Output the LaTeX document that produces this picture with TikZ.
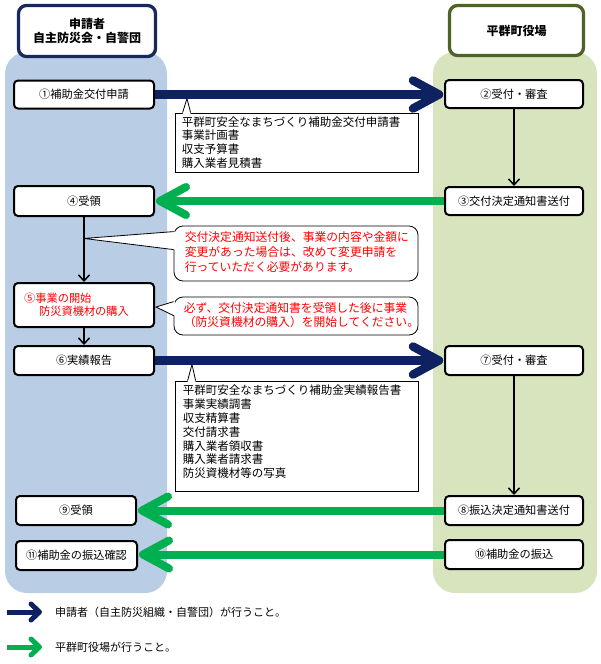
\documentclass[tikz,border=0pt]{standalone}
\usepackage{fontspec}
\setmainfont{Noto Sans CJK JP}
\usetikzlibrary{calc,arrows.meta}
\definecolor{lbg}{RGB}{185,205,229}
\definecolor{rbg}{RGB}{215,228,189}
\definecolor{navyh}{RGB}{22,40,92}
\definecolor{navya}{RGB}{14,33,96}
\definecolor{oliveh}{RGB}{79,98,40}
\definecolor{greena}{RGB}{0,176,80}
\newcommand\fsz[2]{\fontsize{#1pt}{#2pt}\selectfont}
\tikzset{
 hdr/.style={rectangle, rounded corners=8pt, line width=3.3pt, fill=white, align=center, font=\fsz{12}{14.5}\bfseries, inner sep=0pt},
 box/.style={rectangle, draw=black, line width=2pt, rounded corners=4pt, fill=white, inner sep=0pt, font=\fsz{11.2}{13.5}, minimum width=140pt, minimum height=28pt},
 callrect/.style={rectangle, draw=black, line width=0.8pt, fill=white, inner sep=0pt},
 callround/.style={callrect, rounded corners=9pt},
 calltext/.style={anchor=west, align=left, inner sep=0pt, font=\fsz{11.5}{13.8}},
 redtext/.style={anchor=west, align=left, inner sep=0pt, text=red, font=\fsz{11.8}{14.6}},
 legtext/.style={anchor=west, inner sep=0pt, font=\fsz{11}{13}},
 pointer/.style={draw=black, line width=0.8pt},
 flow/.style={draw=black, line width=1.5pt, -{Straight Barb[length=6pt,width=11pt]}},
 navyshaft/.style={draw=navya, line width=8.5pt},
 navytip/.style={draw=navya, line width=8.5pt, line cap=round, line join=round},
 greenshaft/.style={draw=greena, line width=8pt},
 greentip/.style={draw=greena, line width=8pt, line cap=round, line join=round},
}
\begin{document}
\begin{tikzpicture}[x=1pt,y=-1pt]
\useasboundingbox (0,0) rectangle (600,664);
\fill[white] (0,0) rectangle (600,664);
% column backgrounds
\fill[lbg, rounded corners=22pt] (5,52) rectangle (167,593);
\fill[rbg, rounded corners=22pt] (433,52) rectangle (597,593);
% headers
\node[hdr, draw=navyh, minimum width=137pt, minimum height=51pt] (hl) at (87,31) {申請者\\自主防災会・自警団};
\node[hdr, draw=oliveh, minimum width=134pt, minimum height=50pt] (hr) at (516.5,30.5) {平群町役場};
% left boxes
\node[box] (b1) at (84,94.5) {①補助金交付申請};
\node[box, minimum height=30pt] (b4) at (84,201) {④受領};
\node[box, minimum height=44pt] (b5) at (84,305) {};
\node[redtext, font=\fsz{11.2}{13}] (t5) at ($(b5.west)+(11,-0.5)$) {⑤事業の開始\\\hspace{15pt}防災資機材の購入};
\node[box, minimum height=29pt] (b6) at (84,360.5) {⑥実績報告};
\node[box, minimum width=120pt, minimum height=29pt] (b9) at (76,510.5) {⑨受領};
\node[box, minimum width=121pt, minimum height=29pt] (b11) at (76.5,555.5) {⑪補助金の振込確認};
% right boxes
\node[box, minimum width=138pt] (b2) at (514,94) {②受付・審査};
\node[box, minimum width=138pt] (b3) at (514,201) {③交付決定通知書送付};
\node[box, minimum width=138pt, minimum height=29pt] (b7) at (514,360.5) {⑦受付・審査};
\node[box, minimum width=138pt, minimum height=29pt] (b8) at (514,510.5) {⑧振込決定通知書送付};
\node[box, minimum width=138pt, minimum height=29pt] (b10) at (514,554.5) {⑩補助金の振込};
% thin flow arrows
\draw[flow] (b2.south) -- (b3.north);
\draw[flow] (b4.south) -- (b5.north);
\draw[flow] (b5.south) -- (b6.north);
\draw[flow] (b7.south) -- (b8.north);
% callout A
\node[callrect, minimum width=243pt, minimum height=59pt] (cA) at (296.5,142.5) {};
\node[calltext] (tA) at ($(cA.west)+(7,0)$) {平群町安全なまちづくり補助金交付申請書\\事業計画書\\収支予算書\\購入業者見積書};
\coordinate (pA) at (187,98.5);
\fill[white] ($(cA.north west)+(8,1.5)$) -- (pA) -- ($(cA.north west)+(16,1.5)$) -- cycle;
\draw[pointer] ($(cA.north west)+(8,0)$) -- (pA) -- ($(cA.north west)+(16,0)$);
% callout B
\node[callround, minimum width=244pt, minimum height=55pt] (cB) at (296,253.5) {};
\node[redtext] (tB) at ($(cB.west)+(11,-1.5)$) {交付決定通知送付後、事業の内容や金額に\\変更があった場合は、改めて変更申請を\\行っていただく必要があります。};
\coordinate (pB) at ($(b4.south)!0.33!(b5.north)$);
\fill[white] (pB) -- ($(cB.north west)+(1.5,6)$) -- ($(cB.north west)+(1.5,24)$) -- cycle;
\draw[pointer] ($(cB.north west)+(0,6)$) -- (pB) -- ($(cB.north west)+(0,24)$);
% callout C
\node[callround, minimum width=244pt, minimum height=38pt] (cC) at (296,316) {};
\node[redtext] (tC) at ($(cC.west)+(10,-1)$) {必ず、交付決定通知書を受領した後に事業\\（防災資機材の購入）を開始してください。};
\coordinate (pC) at ($(b5.east)+(1,2)$);
\fill[white] (pC) -- ($(cC.north west)+(1.5,5)$) -- ($(cC.north west)+(1.5,19)$) -- cycle;
\draw[pointer] ($(cC.north west)+(0,5)$) -- (pC) -- ($(cC.north west)+(0,19)$);
% callout D
\node[callrect, minimum width=243pt, minimum height=110pt] (cD) at (296.5,436) {};
\node[calltext] (tD) at ($(cD.west)+(8,-4)$) {平群町安全なまちづくり補助金実績報告書\\事業実績調書\\収支精算書\\交付請求書\\購入業者領収書\\購入業者請求書\\防災資機材等の写真};
\coordinate (pD) at (192,364.5);
\fill[white] ($(cD.north west)+(13,1.5)$) -- (pD) -- ($(cD.north west)+(21,1.5)$) -- cycle;
\draw[pointer] ($(cD.north west)+(13,0)$) -- (pD) -- ($(cD.north west)+(21,0)$);
% navy arrows
\coordinate (n1) at ($(b1.east -| b2.west)+(-5,0)$);
\draw[navyshaft] (b1.east) -- (n1);
\draw[navytip] ($(n1)+(-26,-14)$) -- (n1) -- ($(n1)+(-26,14)$);
\coordinate (n2) at ($(b6.east -| b7.west)+(-5,0)$);
\draw[navyshaft] (b6.east) -- (n2);
\draw[navytip] ($(n2)+(-26,-14)$) -- (n2) -- ($(n2)+(-26,14)$);
% green arrows
\coordinate (g1) at ($(b3.west -| b4.east)+(5,0)$);
\draw[greenshaft] (b3.west) -- (g1);
\draw[greentip] ($(g1)+(26,-14)$) -- (g1) -- ($(g1)+(26,14)$);
\coordinate (g2) at ($(b8.west -| b9.east)+(5,0)$);
\draw[greenshaft] (b8.west) -- (g2);
\draw[greentip] ($(g2)+(26,-14)$) -- (g2) -- ($(g2)+(26,14)$);
\coordinate (g3) at ($(b10.west -| b11.east)+(5,0)$);
\draw[greenshaft] (b10.west) -- (g3);
\draw[greentip] ($(g3)+(26,-14)$) -- (g3) -- ($(g3)+(26,14)$);
% legend
\coordinate (la) at (7,612);
\coordinate (lb) at (39.5,612);
\draw[draw=navya, line width=5pt] (la) -- (lb);
\draw[draw=navya, line width=5pt, line cap=round, line join=round] ($(lb)+(-8.5,-8)$) -- (lb) -- ($(lb)+(-8.5,8)$);
\node[legtext] (l1) at (55,612) {申請者（自主防災組織・自警団）が行うこと。};
\coordinate (lc) at (7,647);
\coordinate (ld) at (39.5,647);
\draw[draw=greena, line width=5pt] (lc) -- (ld);
\draw[draw=greena, line width=5pt, line cap=round, line join=round] ($(ld)+(-8.5,-8)$) -- (ld) -- ($(ld)+(-8.5,8)$);
\node[legtext] (l2) at (55,647) {平群町役場が行うこと。};
\end{tikzpicture}
\end{document}
